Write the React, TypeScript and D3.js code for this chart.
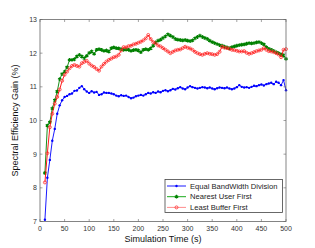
import { useEffect, useRef } from 'react'
import * as d3 from 'd3'

const W = 315
const H = 248
const MARGIN = { top: 19.5, right: 29, bottom: 26.5, left: 40 }

const TIMES = d3.range(10, 501, 5)

const EQUAL_BW = [
  7.05, 8.3, 8.83, 9.4, 9.75, 10.2, 10.45, 10.6, 10.7, 10.73,
  10.78, 10.8, 10.88, 10.89, 10.97, 11.02, 10.93, 10.86, 10.82, 10.87,
  10.83, 10.85, 10.76, 10.78, 10.83, 10.82, 10.82, 10.8, 10.78, 10.74,
  10.72, 10.75, 10.73, 10.74, 10.7, 10.66, 10.68, 10.72, 10.74, 10.76,
  10.74, 10.78, 10.82, 10.8, 10.84, 10.82, 10.86, 10.84, 10.88, 10.9,
  10.87, 10.9, 10.94, 10.92, 10.96, 10.99, 10.95, 10.93, 10.98, 11.02,
  10.99, 10.97, 10.95, 10.97, 10.99, 10.98, 10.96, 10.98, 10.95, 10.93,
  10.96, 10.98, 10.97, 10.96, 10.98, 10.95, 10.93, 10.95, 10.99, 11.05,
  11.0, 10.98, 10.99, 10.97, 11.0, 11.03, 11.02, 11.05, 11.07, 11.04,
  11.08, 11.1, 11.12, 11.08, 11.15, 11.12, 11.05, 11.2, 10.9,
]

const NEAREST_USER = [
  8.44, 9.85, 9.95, 10.36, 10.6, 10.86, 11.23, 11.38, 11.45, 11.58,
  11.8, 11.8, 11.82, 11.9, 11.95, 11.9, 11.85, 11.92, 12.01, 12.05,
  11.98, 12.1, 12.12, 12.1, 12.07, 12.08, 12.05, 12.15, 12.17, 12.15,
  12.14, 12.12, 12.1, 12.11, 12.1, 12.07, 12.09, 12.1, 12.08, 12.03,
  12.1, 12.12, 12.1, 12.14, 12.22, 12.32, 12.37, 12.4, 12.45, 12.5,
  12.56, 12.52, 12.48, 12.42, 12.4, 12.39, 12.38, 12.39, 12.37, 12.36,
  12.38, 12.44, 12.48, 12.52, 12.48, 12.45, 12.42, 12.37, 12.33, 12.3,
  12.27, 12.24, 12.22, 12.19, 12.17, 12.14, 12.18, 12.2, 12.22, 12.24,
  12.25, 12.26, 12.28, 12.3, 12.29, 12.3, 12.32, 12.33, 12.3, 12.26,
  12.18, 12.13, 12.1, 12.07, 12.03, 12.0, 11.96, 11.93, 11.83,
]

const LEAST_BUFFER = [
  8.16, 9.03, 9.8, 10.2, 10.5, 10.7, 10.92, 11.18, 11.36, 11.45,
  11.55, 11.62, 11.65, 11.62, 11.6, 11.7, 11.74, 11.77, 11.69, 11.63,
  11.59, 11.53, 11.48, 11.6, 11.68, 11.75, 11.8, 11.84, 11.88, 11.9,
  11.95, 12.08, 12.18, 12.17, 12.21, 12.22, 12.26, 12.28, 12.31, 12.34,
  12.38, 12.44, 12.54, 12.42, 12.33, 12.29, 12.23, 12.2, 12.15, 12.1,
  12.05, 12.0, 12.04, 12.08, 12.1, 12.11, 12.15, 12.19, 12.16, 12.14,
  12.1, 12.04, 12.0, 11.97, 11.95, 11.98, 12.0, 11.98, 11.97, 11.95,
  11.97, 12.04, 12.19, 12.16, 12.15, 12.13, 12.1, 12.09, 12.07, 12.05,
  12.05, 12.06, 12.01, 11.98, 12.0, 12.03, 12.06, 12.08, 12.1, 12.15,
  12.1, 12.06, 12.05, 12.03, 12.0, 11.96, 11.88, 12.1, 12.12,
]

const X_TICKS = d3.range(0, 501, 50)
const Y_TICKS = [7, 8, 9, 10, 11, 12, 13]

const SERIES = [
  { name: 'Equal BandWidth Division', values: EQUAL_BW, color: '#0000ff', legendColor: '#0000ff', marker: 'dot' },
  { name: 'Nearest User First', values: NEAREST_USER, color: '#008000', legendColor: '#00a000', marker: 'star' },
  { name: 'Least Buffer First', values: LEAST_BUFFER, color: '#ff0000', legendColor: '#ff8080', marker: 'circle' },
]

const FONT = '"Liberation Sans", Arial, sans-serif'

export default function App() {
  const svgRef = useRef<SVGSVGElement>(null)

  useEffect(() => {
    if (!svgRef.current) return
    const iW = W - MARGIN.left - MARGIN.right
    const iH = H - MARGIN.top - MARGIN.bottom

    const x = d3.scaleLinear().domain([0, 500]).range([0, iW])
    const y = d3.scaleLinear().domain([7, 13]).range([iH, 0])

    const svg = d3.select(svgRef.current)
    svg.selectAll('*').remove()
    svg.attr('width', W).attr('height', H)
    svg.append('rect').attr('width', W).attr('height', H).attr('fill', '#fff')

    const g = svg.append('g').attr('transform', `translate(${MARGIN.left},${MARGIN.top})`)

    const clipId = 'plot-clip'
    svg.append('defs').append('clipPath').attr('id', clipId)
      .append('rect').attr('x', -3).attr('y', -3).attr('width', iW + 6).attr('height', iH + 6)

    const plot = g.append('g').attr('clip-path', `url(#${clipId})`)

    const drawMarker = (sel: any, kind: string, color: string) => {
      if (kind === 'dot') {
        sel.append('circle').attr('r', 1.2).attr('fill', color)
      } else if (kind === 'star') {
        sel.append('path').attr('d', d3.symbol().type(d3.symbolAsterisk).size(10)())
          .attr('fill', 'none').attr('stroke', color).attr('stroke-width', 1.1)
      } else {
        sel.append('circle').attr('r', 1.5).attr('fill', 'none').attr('stroke', color).attr('stroke-width', 0.8)
      }
    }

    SERIES.forEach(s => {
      const pts = TIMES.map((t, i) => ({ t, v: s.values[i] }))
      const line = d3.line<{ t: number, v: number }>().x(d => x(d.t)).y(d => y(d.v))
      plot.append('path').datum(pts)
        .attr('fill', 'none').attr('stroke', s.color).attr('stroke-width', 0.9)
        .attr('d', line)
      const m = plot.append('g').selectAll('g').data(pts).join('g')
        .attr('transform', d => `translate(${x(d.t)},${y(d.v)})`)
      drawMarker(m, s.marker, s.marker === 'circle' ? '#ff3030' : s.color)
    })

    // Frame
    g.append('rect').attr('width', iW).attr('height', iH)
      .attr('fill', 'none').attr('stroke', '#666').attr('stroke-width', 0.8)

    // Ticks on all sides, pointing in
    const tk = 2.5
    X_TICKS.forEach(t => {
      g.append('line').attr('x1', x(t)).attr('x2', x(t)).attr('y1', iH).attr('y2', iH - tk).attr('stroke', '#666').attr('stroke-width', 0.6)
      g.append('line').attr('x1', x(t)).attr('x2', x(t)).attr('y1', 0).attr('y2', tk).attr('stroke', '#666').attr('stroke-width', 0.6)
      g.append('text').attr('x', x(t)).attr('y', iH + 9)
        .attr('text-anchor', 'middle').attr('font-size', 7).attr('font-family', FONT).attr('fill', '#333')
        .text(t)
    })
    Y_TICKS.forEach(v => {
      g.append('line').attr('x1', 0).attr('x2', tk).attr('y1', y(v)).attr('y2', y(v)).attr('stroke', '#666').attr('stroke-width', 0.6)
      g.append('line').attr('x1', iW).attr('x2', iW - tk).attr('y1', y(v)).attr('y2', y(v)).attr('stroke', '#666').attr('stroke-width', 0.6)
      g.append('text').attr('x', -3).attr('y', y(v) + 2.5)
        .attr('text-anchor', 'end').attr('font-size', 7).attr('font-family', FONT).attr('fill', '#333')
        .text(v)
    })

    // Axis labels
    g.append('text').attr('x', iW / 2).attr('y', iH + 20)
      .attr('text-anchor', 'middle').attr('font-size', 9).attr('font-family', FONT).attr('fill', '#111')
      .text('Simulation Time (s)')
    g.append('text')
      .attr('transform', `translate(${-22},${iH / 2}) rotate(-90)`)
      .attr('text-anchor', 'middle').attr('font-size', 9).attr('font-family', FONT).attr('fill', '#111')
      .text('Spectral Efficiency Gain (%)')

    // Legend
    const lg = svg.append('g').attr('transform', 'translate(165,179.5)')
    lg.append('rect').attr('width', 117.5).attr('height', 33)
      .attr('fill', '#fff').attr('stroke', '#444').attr('stroke-width', 0.8)
    SERIES.forEach((s, i) => {
      const row = lg.append('g').attr('transform', `translate(0,${6.5 + i * 10.7})`)
      row.append('line').attr('x1', 2).attr('x2', 21).attr('stroke', s.legendColor).attr('stroke-width', 0.9)
      const mk = row.append('g').attr('transform', 'translate(11.5,0)')
      drawMarker(mk, s.marker, s.marker === 'circle' ? '#ff3030' : s.color)
      row.append('text').attr('x', 25).attr('y', 2.6)
        .attr('font-size', 7.6).attr('font-family', FONT).attr('fill', '#222')
        .text(s.name)
    })
  }, [])

  return (
    <svg ref={svgRef} style={{ position: 'absolute', left: 0, top: 0, display: 'block' }} />
  )
}
